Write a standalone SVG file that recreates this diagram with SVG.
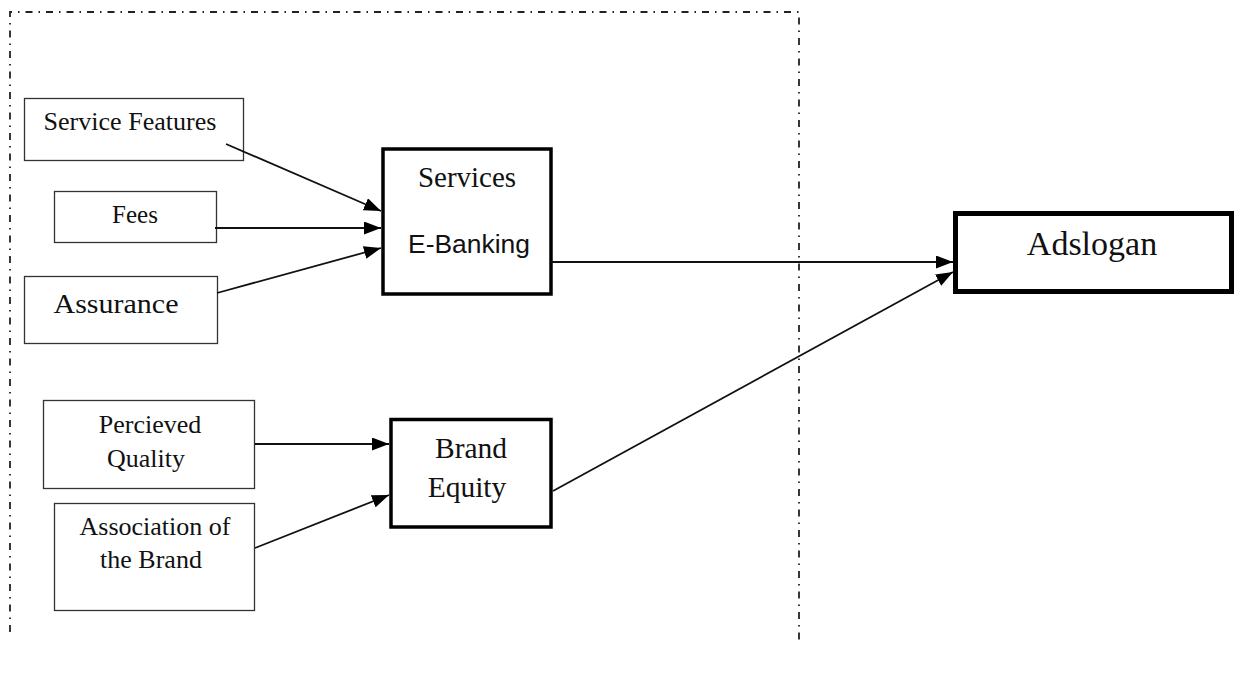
<svg xmlns="http://www.w3.org/2000/svg" width="1235" height="673" viewBox="0 0 1235 673">
<style>
.thin{fill:#fff;stroke:#333;stroke-width:1.3}
.thick{fill:#fff;stroke:#000;stroke-width:3.5}
.t{font-family:"Liberation Serif","Times New Roman",serif;fill:#111;text-anchor:middle}
.s{font-family:"Liberation Sans",Arial,sans-serif;fill:#111;text-anchor:middle}
.c{stroke:#111;stroke-width:1.8;fill:none;marker-end:url(#ah)}
.frame{fill:none;stroke:#222;stroke-width:1.8;stroke-dasharray:7 6 1.5 6}
</style>
<defs>
<marker id="ah" markerUnits="userSpaceOnUse" markerWidth="17" markerHeight="13" refX="17" refY="6.5" orient="auto">
<path d="M0,0 L17,6.5 L0,13 z" fill="#000"/>
</marker>
</defs>
<rect width="1235" height="673" fill="#fff"/>
<path class="frame" d="M10,632 L10,12 L799,12 L799,640"/>
<g id="n-service-features"><rect class="thin" x="24.5" y="98.5" width="219" height="62"/><text class="t" x="130" y="130" font-size="25" textLength="173" lengthAdjust="spacingAndGlyphs">Service Features</text></g>
<g id="n-fees"><rect class="thin" x="54.5" y="191.5" width="162" height="51"/><text class="t" x="135" y="223" font-size="25">Fees</text></g>
<g id="n-assurance"><rect class="thin" x="24.5" y="276.5" width="193" height="67"/><text class="t" x="116" y="313" font-size="28" textLength="125" lengthAdjust="spacingAndGlyphs">Assurance</text></g>
<g id="n-services"><rect class="thick" x="383" y="149" width="168" height="145"/><text class="t" x="467" y="187" font-size="29">Services</text><text class="s" x="469" y="253" font-size="25" textLength="122" lengthAdjust="spacingAndGlyphs">E-Banking</text></g>
<g id="n-percieved"><rect class="thin" x="43.5" y="400.5" width="211" height="88"/><text class="t" x="150" y="433" font-size="26">Percieved</text><text class="t" x="146" y="467" font-size="26">Quality</text></g>
<g id="n-association"><rect class="thin" x="54.5" y="503.5" width="200" height="107"/><text class="t" x="155" y="535" font-size="26">Association of</text><text class="t" x="151" y="568" font-size="26">the Brand</text></g>
<g id="n-brand-equity"><rect class="thick" x="391" y="419.5" width="160" height="107.5"/><text class="t" x="471" y="458" font-size="29.5">Brand</text><text class="t" x="467" y="497" font-size="29.5">Equity</text></g>
<g id="n-adslogan"><rect class="thick" x="955.5" y="213.5" width="276" height="78" style="stroke-width:5"/><text class="t" x="1092" y="255" font-size="34">Adslogan</text></g>
<g id="connectors">
<line class="c" x1="226" y1="144" x2="381" y2="211"/>
<line class="c" x1="215" y1="228" x2="381" y2="228"/>
<line class="c" x1="217" y1="293" x2="381" y2="248"/>
<line class="c" x1="255" y1="444" x2="389" y2="444"/>
<line class="c" x1="255" y1="548" x2="389" y2="495"/>
<line class="c" x1="551" y1="262" x2="953" y2="262"/>
<line class="c" x1="553" y1="491" x2="953" y2="272"/>
</g>
</svg>
